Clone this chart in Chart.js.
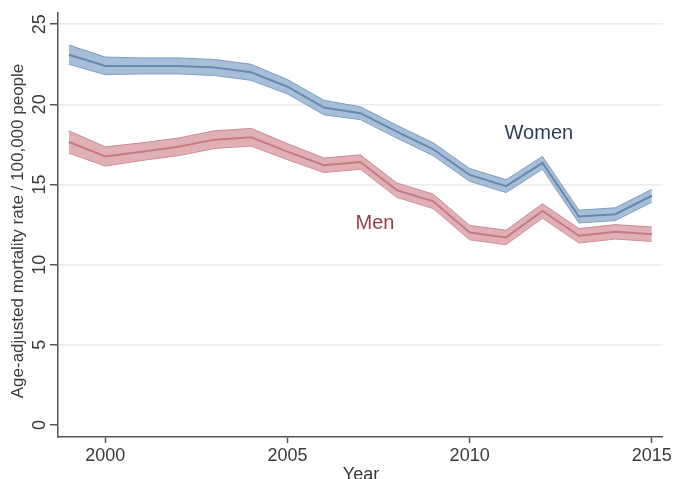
<!DOCTYPE html>
<html>
<head>
<meta charset="utf-8">
<script src="https://cdn.jsdelivr.net/npm/chart.js@4/dist/chart.umd.min.js"></script>
<style>
html,body{margin:0;padding:0;background:#ffffff;}
#wrap{width:674px;height:479px;position:relative;}
</style>
</head>
<body>
<div id="wrap"><canvas id="c" width="674" height="479"></canvas></div>
<script>
const years = [1999,2000,2001,2002,2003,2004,2005,2006,2007,2008,2009,2010,2011,2012,2013,2014,2015];
const womenRate = [23.1,22.4,22.4,22.4,22.3,22.0,21.1,19.8,19.45,18.3,17.2,15.6,14.9,16.35,13.0,13.15,14.3];
const womenLow  = [22.5,21.85,21.9,21.9,21.8,21.5,20.65,19.35,19.05,17.9,16.8,15.2,14.5,15.95,12.6,12.75,13.9];
const womenHigh = [23.7,22.95,22.9,22.9,22.8,22.5,21.55,20.25,19.85,18.7,17.6,16.0,15.3,16.75,13.4,13.55,14.7];
const menRate = [17.65,16.75,17.05,17.35,17.8,17.95,17.05,16.2,16.4,14.65,13.95,12.0,11.7,13.35,11.8,12.05,11.9];
const menLow  = [16.95,16.15,16.5,16.8,17.25,17.4,16.55,15.75,15.95,14.2,13.5,11.55,11.25,12.9,11.35,11.6,11.45];
const menHigh = [18.35,17.35,17.6,17.9,18.35,18.5,17.55,16.65,16.85,15.1,14.4,12.45,12.15,13.8,12.25,12.5,12.35];
const xTicks = [2000,2005,2010,2015];
const yTicks = [0,5,10,15,20,25];
const seriesLabels = ["Women","Men"];
const yTitle = "Age-adjusted mortality rate / 100,000 people";
const xTitle = "Year";

const pts = arr => years.map((y,i)=>({x:y,y:arr[i]}));
const FONT = '"Liberation Sans", Arial, sans-serif';

const overlay = {
  id:'overlay',
  afterDraw(chart){
    const ctx = chart.ctx, ys = chart.scales.y, xs = chart.scales.x;
    ctx.save();
    ctx.fillStyle = '#3a3a3a';
    ctx.font = '18px ' + FONT;
    ctx.textAlign = 'center';
    ctx.textBaseline = 'middle';
    yTicks.forEach(v=>{
      const py = ys.getPixelForValue(v);
      ctx.save();
      ctx.translate(40, py);
      ctx.rotate(-Math.PI/2);
      ctx.fillText(String(v), 0, 0);
      ctx.restore();
    });
    ctx.font = '17px ' + FONT;
    ctx.save();
    ctx.translate(18, 231);
    ctx.rotate(-Math.PI/2);
    ctx.fillText(yTitle, 0, 0);
    ctx.restore();
    ctx.font = '18px ' + FONT;
    ctx.textBaseline = 'top';
    ctx.fillText(xTitle, 361, 466);
    ctx.textBaseline = 'middle';
    ctx.font = '20px ' + FONT;
    ctx.fillStyle = '#2e3d55';
    ctx.fillText(seriesLabels[0], xs.getPixelForValue(2011.9), ys.getPixelForValue(18.2));
    ctx.fillStyle = '#93404a';
    ctx.fillText(seriesLabels[1], xs.getPixelForValue(2007.4), ys.getPixelForValue(12.6));
    ctx.restore();
  }
};

new Chart(document.getElementById('c'), {
  type:'line',
  data:{
    datasets:[
      {data:pts(womenHigh), borderColor:'#7f9cbf', borderWidth:1, backgroundColor:'rgba(130,163,201,0.7)', fill:'+1', pointRadius:0, tension:0},
      {data:pts(womenLow), borderColor:'#7f9cbf', borderWidth:1, pointRadius:0, fill:false, tension:0},
      {data:pts(womenRate), borderColor:'#284870', borderWidth:2, pointRadius:0, fill:false, tension:0},
      {data:pts(menHigh), borderColor:'#c98a91', borderWidth:1, backgroundColor:'rgba(214,150,157,0.75)', fill:'+1', pointRadius:0, tension:0},
      {data:pts(menLow), borderColor:'#c98a91', borderWidth:1, pointRadius:0, fill:false, tension:0},
      {data:pts(menRate), borderColor:'#922f3b', borderWidth:2, pointRadius:0, fill:false, tension:0}
    ]
  },
  options:{
    responsive:false,
    animation:false,
    layout:{padding:{top:13,right:11,left:0,bottom:0}},
    plugins:{legend:{display:false}, tooltip:{enabled:false}},
    scales:{
      x:{
        type:'linear', min:1998.7, max:2015.3,
        afterBuildTicks: s => { s.ticks = xTicks.map(v=>({value:v})); },
        afterFit: s => { s.height = 42; },
        grid:{drawOnChartArea:false, drawTicks:true, tickLength:6, tickColor:'#555', tickWidth:1.5},
        border:{color:'#555', width:1.5},
        ticks:{font:{family:FONT,size:18}, color:'#3a3a3a', padding:2, maxRotation:0, callback:v=>String(v)}
      },
      y:{
        type:'linear', min:-0.75, max:25.7,
        afterBuildTicks: s => { s.ticks = yTicks.map(v=>({value:v})); },
        afterFit: s => { s.width = 58; },
        grid:{color: c => (c.tick && c.tick.value===0) ? 'rgba(0,0,0,0)' : '#ececec', lineWidth:1.5, drawTicks:true, tickLength:8, tickColor:'#555', tickWidth:1.5},
        border:{color:'#555', width:1.5},
        ticks:{display:false}
      }
    }
  },
  plugins:[overlay]
});
</script>
</body>
</html>
